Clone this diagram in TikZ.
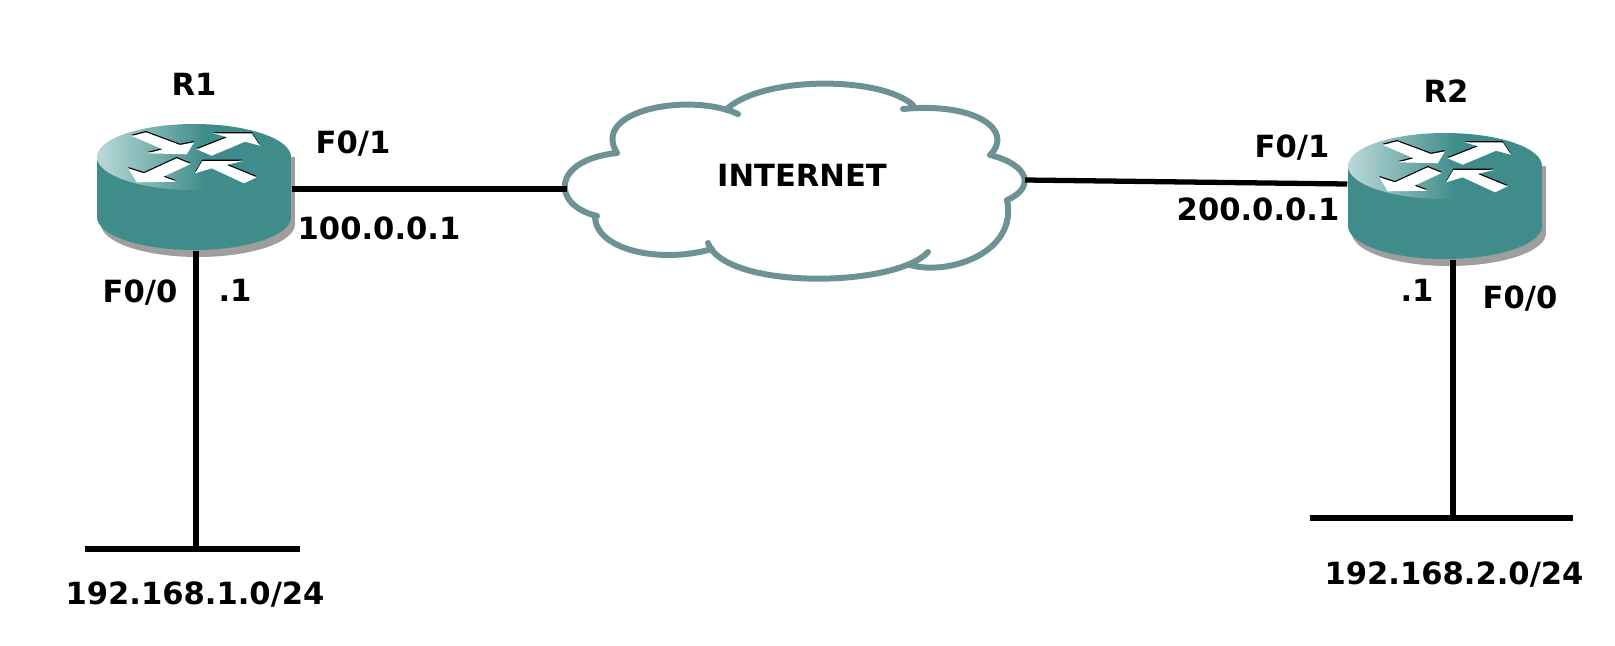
\documentclass[tikz,border=0pt]{standalone}
\usepackage{fontspec}
\setmainfont{DejaVu Sans}
\definecolor{routerteal}{HTML}{3F8C8A}
\definecolor{routerlight}{HTML}{BBD9D9}
\definecolor{routershadow}{HTML}{9E9E9E}
\definecolor{cloudline}{HTML}{6C9296}
\pgfdeclarehorizontalshading{routertop}{100bp}{color(0bp)=(routerlight); color(25bp)=(routerlight); color(53bp)=(routerteal); color(100bp)=(routerteal)}
\tikzset{
	hold/.style={minimum width=1.94cm,minimum height=1.26cm,inner sep=0pt},
	lbl/.style={font=\bfseries\fontsize{8.7}{10}\selectfont,inner sep=0pt},
	wire/.style={line width=1.5pt,black},
	router/.pic={
		\fill[routershadow] (4,37) ellipse[x radius=97,y radius=33];
		\fill[routershadow] (-93,-30) rectangle (101,37);
		\fill[routerteal] (0,30) ellipse[x radius=97,y radius=33];
		\fill[routerteal] (-97,-30) rectangle (97,30);
		\shade[shading=routertop] (0,-30) ellipse[x radius=97,y radius=33];
		\foreach \col/\dy in {black/-1.3,white/0}{
			\begin{scope}[shift={(2,3)},yshift=\dy*-0.01cm]
			\fill[\col] (-64.3,-54) -- (-50,-57.7) -- (-16,-45) -- (-2,-47.7) -- (-9.3,-35.7) -- (-48.7,-36.7) -- (-33.3,-40.7) -- cycle;
			\fill[\col] (0.7,-40.7) -- (31.3,-52.7) -- (17.3,-56.7) -- (55.7,-56.7) -- (64,-44.3) -- (49,-48.3) -- (15.7,-34.3) -- cycle;
			\fill[\col] (-5.3,-26) -- (-32.7,-13.3) -- (-19.3,-8.3) -- (-59.3,-7.7) -- (-67.7,-21.7) -- (-52,-16.7) -- (-19.3,-31.7) -- cycle;
			\fill[\col] (-1,-16.7) -- (6.3,-29) -- (46.7,-29) -- (30.7,-25) -- (60.7,-12.7) -- (48,-6.7) -- (15.7,-21.7) -- cycle;
			\end{scope}
		}
	}
}
\begin{document}
\begin{tikzpicture}[x=0.01cm,y=-0.01cm]
	\useasboundingbox (0,0) rectangle (1615,645);

	% routers
	\node[hold] (R1) at (194,187) {};
	\node[hold] (R2) at (1445,196) {};
	\pic at (R1) {router};
	\pic at (R2) {router};

	% cloud
	\draw[cloudline,line width=1.7pt,line cap=round]
		(617,153) .. controls (551,160) and (551,205) .. (597,216)
		(595,216) .. controls (595,250) and (660,264) .. (712,249)
		(708,243) .. controls (725,290) and (895,288) .. (928,252)
		(910,265) .. controls (950,276) and (1018,252) .. (1007,200)
		(1007,200) .. controls (1035,188) and (1030,165) .. (990,155)
		(990,155) .. controls (1015,130) and (975,102) .. (903,109)
		(913,105) .. controls (880,76) and (765,76) .. (728,108)
		(738,114) .. controls (690,92) and (590,110) .. (617,153);
	\node[lbl] (internet) at (802,175) {INTERNET};
	\coordinate (inetW) at (567,189);
	\coordinate (inetE) at (1025,180);
	\coordinate (inR2) at (1349,184);

	% lan segments
	\coordinate (lan1) at (196,549);
	\coordinate (lan1L) at (85,549);
	\coordinate (lan1R) at (300,549);
	\coordinate (lan2) at (1453,518);
	\coordinate (lan2L) at (1310,518);
	\coordinate (lan2R) at (1573,518);

	\draw[wire] (R1.east |- inetW) -- (inetW);
	\draw[wire] (inetE) -- (R2.west |- inR2);
	\draw[wire] (lan1 |- R1.south) -- (lan1);
	\draw[wire] (lan2 |- R2.south) -- (lan2);
	\draw[wire] (lan1L) -- (lan1R);
	\draw[wire] (lan2L) -- (lan2R);

	% labels
	\node[lbl] (nameR1) at (194,84) {R1};
	\node[lbl] (ifR1a) at (353,144) {F0/1};
	\node[lbl] (ipR1a) at (379,228) {100.0.0.1};
	\node[lbl] (ifR1b) at (140,293) {F0/0};
	\node[lbl] (ipR1b) at (235,290) {.1};
	\node[lbl] (netR1) at (195,595) {192.168.1.0/24};

	\node[lbl] (nameR2) at (1446,91) {R2};
	\node[lbl] (ifR2a) at (1292,148) {F0/1};
	\node[lbl] (ipR2a) at (1258,209) {200.0.0.1};
	\node[lbl] (ipR2b) at (1417,290) {.1};
	\node[lbl] (ifR2b) at (1520,299) {F0/0};
	\node[lbl] (netR2) at (1454,575) {192.168.2.0/24};
\end{tikzpicture}
\end{document}
